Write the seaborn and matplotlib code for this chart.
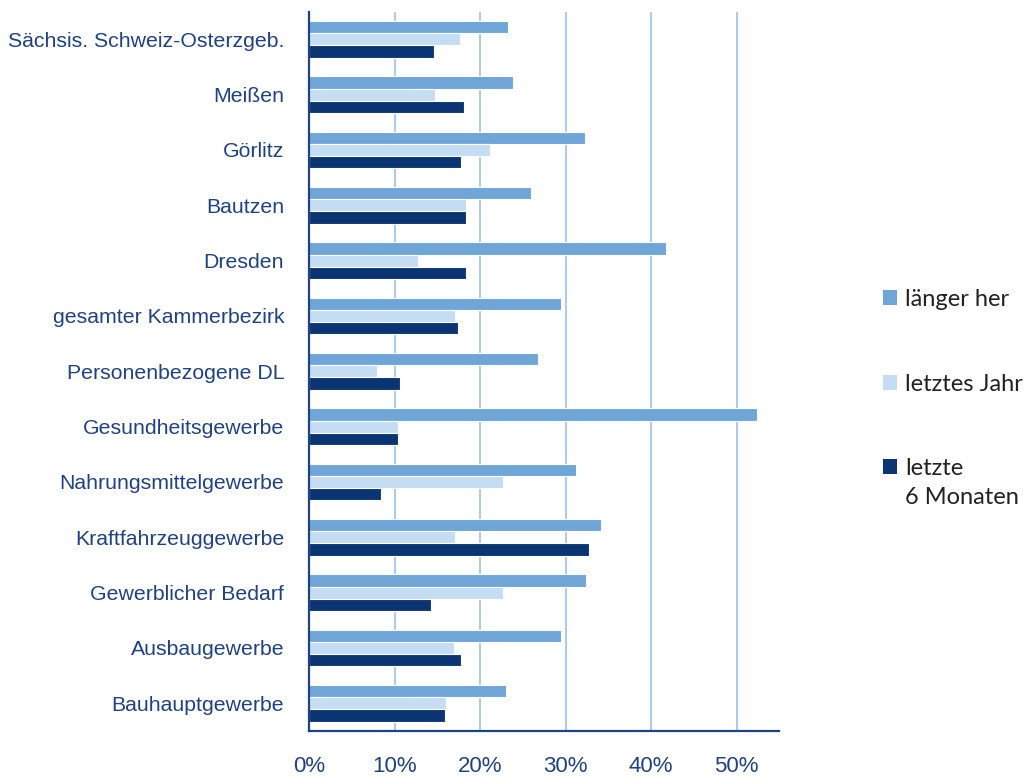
import matplotlib
matplotlib.use("Agg")
import matplotlib.pyplot as plt
import pandas as pd
import seaborn as sns
from matplotlib.legend_handler import HandlerBase
from matplotlib.patches import Rectangle
from matplotlib.ticker import PercentFormatter

categories = [
    "Sächsis. Schweiz-Osterzgeb.", "Meißen", "Görlitz", "Bautzen", "Dresden",
    "gesamter Kammerbezirk", "Personenbezogene DL", "Gesundheitsgewerbe",
    "Nahrungsmittelgewerbe", "Kraftfahrzeuggewerbe", "Gewerblicher Bedarf",
    "Ausbaugewerbe", "Bauhauptgewerbe",
]
series = ["länger her", "letztes Jahr", "letzte\n6 Monaten"]
laenger_her = [23.2, 23.8, 32.3, 25.9, 41.7, 29.5, 26.8, 52.4, 31.2, 34.1, 32.4, 29.4, 23.0]
letztes_jahr = [17.7, 14.7, 21.2, 18.3, 12.7, 17.0, 7.9, 10.4, 22.7, 17.0, 22.7, 16.9, 16.0]
letzte_6_monate = [14.6, 18.1, 17.8, 18.3, 18.3, 17.4, 10.6, 10.4, 8.4, 32.7, 14.2, 17.8, 15.9]
x_ticks = [0, 10, 20, 30, 40, 50]

colors = ["#6FA5D7", "#C5DDF2", "#0B3572"]
text_color = "#1F4283"


class SquareHandler(HandlerBase):
    """Legend square, raised to the first line for multi-line labels."""
    def __init__(self, shift=0.0):
        super().__init__()
        self.shift = shift

    def create_artists(self, legend, orig_handle, xdescent, ydescent,
                       width, height, fontsize, trans):
        p = Rectangle((-xdescent, -ydescent + self.shift), width, height,
                      facecolor=orig_handle.get_facecolor(), edgecolor="none",
                      transform=trans)
        return [p]


df = pd.DataFrame({
    "Kategorie": categories * 3,
    "Zeitraum": [series[0]] * 13 + [series[1]] * 13 + [series[2]] * 13,
    "Anteil": laenger_her + letztes_jahr + letzte_6_monate,
})

sns.set_style("white")
plt.rcParams["font.family"] = ["Liberation Sans", "DejaVu Sans"]

fig = plt.figure(figsize=(10.27, 7.76), dpi=100)
ax = fig.add_axes([0.301, 0.058, 0.458, 0.927])

sns.barplot(data=df, y="Kategorie", x="Anteil", hue="Zeitraum", order=categories,
            hue_order=series, palette=colors, saturation=1, width=0.66, orient="h",
            edgecolor="white", linewidth=0.8, ax=ax, legend=False, zorder=3)

ax.set_xlim(0, 55)
ax.set_xticks(x_ticks)
ax.xaxis.set_major_formatter(PercentFormatter(decimals=0))
ax.grid(axis="x", color="#A9CBEA", linewidth=1.4, zorder=0)
ax.set_axisbelow(True)
ax.set_xlabel("")
ax.set_ylabel("")

for side in ["top", "right"]:
    ax.spines[side].set_visible(False)
for side in ["left", "bottom"]:
    ax.spines[side].set_color("#1F4283")
    ax.spines[side].set_linewidth(1.6)
    ax.spines[side].set_zorder(5)

ax.tick_params(axis="x", length=0, pad=18, labelsize=16, labelcolor=text_color)
ax.tick_params(axis="y", length=0, pad=18, labelsize=15.3, labelcolor=text_color)

legend_size = 17
handles = [Rectangle((0, 0), 1, 1, facecolor=c) for c in colors]
handler_map = {handles[0]: SquareHandler(), handles[1]: SquareHandler(),
               handles[2]: SquareHandler(shift=1.4 * legend_size / 2)}
leg = fig.legend(handles, series, loc="upper left", bbox_to_anchor=(0.839, 0.655),
                 frameon=False, labelspacing=2.7, handlelength=0.6,
                 handleheight=0.6, handletextpad=0.35, labelcolor="#222222",
                 handler_map=handler_map,
                 prop={"family": ["Lato", "DejaVu Sans"], "size": legend_size})
for t in leg.get_texts():
    t.set_linespacing(1.45)

fig.savefig("out.png", dpi=100)
